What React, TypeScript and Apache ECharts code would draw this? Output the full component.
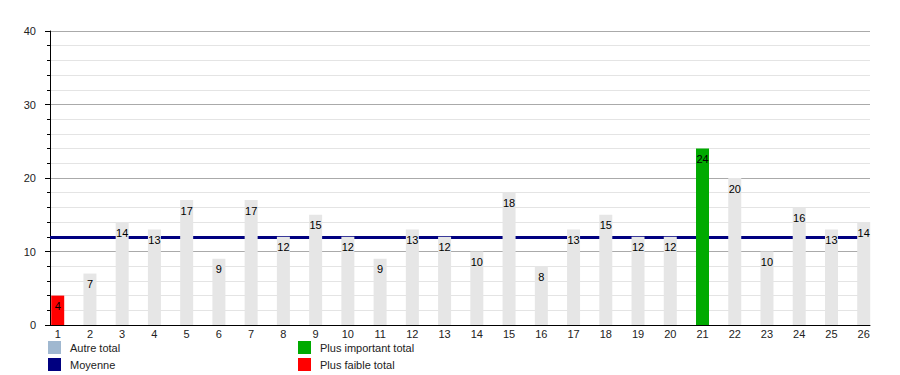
import React, { useEffect, useRef } from "react";
import * as echarts from "echarts";

const categories: number[] = [
  1, 2, 3, 4, 5, 6, 7, 8, 9, 10, 11, 12, 13, 14, 15, 16, 17, 18, 19, 20, 21, 22, 23, 24, 25, 26,
];
const totals: number[] = [
  4, 7, 14, 13, 17, 9, 17, 12, 15, 12, 9, 13, 12, 10, 18, 8, 13, 15, 12, 12, 24, 20, 10, 16, 13, 14,
];
const moyenne = 12;
const yTicks: number[] = [0, 10, 20, 30, 40];

const FONT = "'Liberation Sans', Arial, sans-serif";

export default function App() {
  const ref = useRef<HTMLDivElement>(null);
  useEffect(() => {
    if (!ref.current) return;
    const chart = echarts.init(ref.current, undefined, { renderer: "svg" });
    const maxV = Math.max(...totals);
    const minV = Math.min(...totals);
    const pairs = categories.map((c, i) => [c, totals[i]]);
    const other = pairs
      .filter((p) => p[1] !== maxV && p[1] !== minV)
      .map((p) => ({ value: p, itemStyle: { color: "#e6e6e6" } }));
    const highest = pairs.filter((p) => p[1] === maxV);
    const lowest = pairs.filter((p) => p[1] === minV);
    const label = {
      show: true,
      position: "insideTop",
      distance: 5,
      color: "#000",
      fontSize: 11,
      fontFamily: FONT,
    };
    const legendBase = {
      top: 341,
      orient: "vertical",
      padding: 0,
      itemGap: 4,
      itemWidth: 13,
      itemHeight: 13,
      icon: "rect",
      selectedMode: false,
      textStyle: { fontSize: 11, color: "#222", fontFamily: FONT, padding: [0, 0, 0, 4] },
    };
    chart.setOption({
      animation: false,
      backgroundColor: "#fff",
      grid: { left: 50, right: 30, top: 31, bottom: 50, containLabel: false },
      legend: [
        { ...legendBase, left: 48, data: ["Autre total", "Moyenne"] },
        { ...legendBase, left: 298, data: ["Plus important total", "Plus faible total"] },
      ],
      xAxis: {
        type: "value",
        min: categories[0] - 0.239,
        max: categories[categories.length - 1] + 0.195,
        minInterval: 1,
        maxInterval: 1,
        axisLine: { show: true, lineStyle: { color: "#000", width: 1 } },
        axisTick: { show: false },
        splitLine: { show: false },
        axisLabel: {
          margin: 3,
          fontSize: 11,
          color: "#222",
          fontFamily: FONT,
          showMinLabel: false,
          showMaxLabel: false,
          formatter: (v: number) => (Number.isInteger(v) ? String(v) : ""),
        },
      },
      yAxis: {
        type: "value",
        min: yTicks[0],
        max: yTicks[yTicks.length - 1],
        interval: 10,
        axisLine: { show: true, lineStyle: { color: "#000", width: 1 } },
        axisTick: { show: true, length: 5, lineStyle: { color: "#000" } },
        minorTick: { show: true, splitNumber: 5, length: 3, lineStyle: { color: "#000" } },
        splitLine: { show: true, lineStyle: { color: "#aaaaaa", width: 1 } },
        minorSplitLine: { show: true, lineStyle: { color: "#e4e4e4", width: 1 } },
        axisLabel: { margin: 14, fontSize: 11, color: "#222", fontFamily: FONT },
      },
      series: [
        {
          name: "Moyenne",
          type: "line",
          z: 1,
          data: [],
          symbol: "none",
          itemStyle: { color: "#000080" },
          lineStyle: { color: "#000080", width: 3 },
          markLine: {
            silent: true,
            z: 1,
            symbol: "none",
            label: { show: false },
            lineStyle: { color: "#000080", width: 3, type: "solid" },
            data: [{ yAxis: moyenne }],
          },
        },
        {
          name: "Autre total",
          type: "bar",
          z: 6,
          barWidth: 13,
          barGap: "-100%",
          itemStyle: { color: "#a0b8d0" },
          label,
          data: other,
        },
        {
          name: "Plus important total",
          type: "bar",
          z: 6,
          barWidth: 13,
          barGap: "-100%",
          itemStyle: { color: "#00aa00" },
          label,
          data: highest,
        },
        {
          name: "Plus faible total",
          type: "bar",
          z: 6,
          barWidth: 13,
          barGap: "-100%",
          itemStyle: { color: "#ff0000" },
          label,
          data: lowest,
        },
      ],
    });
    return () => chart.dispose();
  }, []);
  return (
    <div
      ref={ref}
      style={{ position: "fixed", left: 0, top: 0, width: 900, height: 375, background: "#fff" }}
    />
  );
}
